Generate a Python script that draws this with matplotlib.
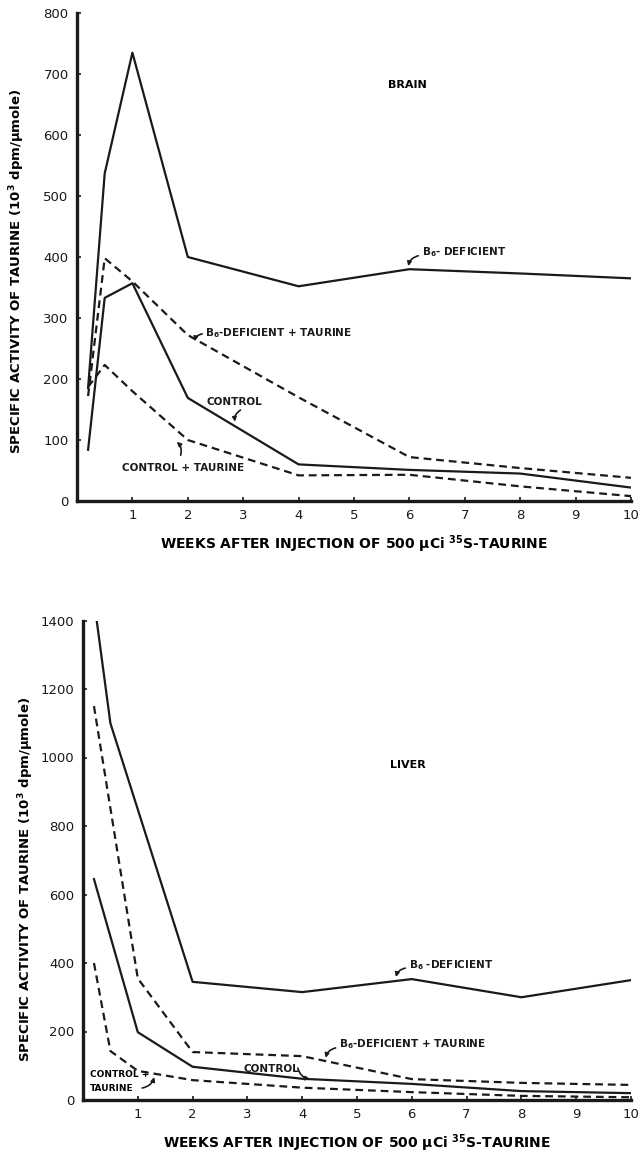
import matplotlib
matplotlib.use("Agg")
import matplotlib.pyplot as plt

plt.rcParams['font.family'] = ['DejaVu Sans']
plt.rcParams['mathtext.default'] = 'regular'

# ---------------- Brain data ----------------
brain_b6_def_x = [0.2, 0.5, 1, 2, 4, 6, 8, 10]
brain_b6_def = [185, 537, 735, 400, 352, 380, 373, 365]
brain_b6_tau_x = [0.2, 0.5, 1, 2, 4, 6, 8, 10]
brain_b6_tau = [172, 398, 360, 272, 170, 72, 54, 38]
brain_ctrl_x = [0.2, 0.5, 1, 2, 4, 6, 8, 10]
brain_ctrl = [84, 333, 357, 169, 60, 51, 45, 22]
brain_ctrl_tau_x = [0.2, 0.5, 1, 2, 4, 6, 8, 10]
brain_ctrl_tau = [187, 223, 180, 100, 42, 43, 24, 8]

# ---------------- Liver data ----------------
liver_b6_def_x = [0.25, 0.5, 2, 4, 6, 8, 10]
liver_b6_def = [1400, 1100, 345, 315, 353, 300, 350]
liver_b6_tau_x = [0.2, 1, 2, 4, 6, 8, 10]
liver_b6_tau = [1150, 355, 140, 128, 61, 50, 44]
liver_ctrl_x = [0.2, 1, 2, 4, 6, 8, 10]
liver_ctrl = [645, 198, 97, 62, 47, 26, 20]
liver_ctrl_tau_x = [0.2, 0.5, 1, 2, 4, 6, 8, 10]
liver_ctrl_tau = [400, 143, 85, 58, 36, 23, 12, 8]

x_ticks = [1, 2, 3, 4, 5, 6, 7, 8, 9, 10]
brain_yticks = [0, 100, 200, 300, 400, 500, 600, 700, 800]
liver_yticks = [0, 200, 400, 600, 800, 1000, 1200, 1400]

ylabel_text = "SPECIFIC ACTIVITY OF TAURINE (10$^3$ dpm/\u03bcmole)"
brain_xlabel = "WEEKS AFTER INJECTION OF 500 \u03bcCi $^{35}$S-TAURINE"
liver_xlabel = "WEEKS AFTER INJECTION OF 500 \u03bcCi $^{35}$S-TAURINE"

W, H = 641, 1156
fig = plt.figure(figsize=(W / 100, H / 100), dpi=100)


def px_axes(x0, x1, ytop, ybot):
    return fig.add_axes([x0 / W, 1 - ybot / H, (x1 - x0) / W, (ybot - ytop) / H])


LW = 1.6
DASH = (3.5, 2.2)


def style(ax, ymax, yticks):
    ax.set_xlim(0, 10)
    ax.set_ylim(0, ymax)
    for s in ['top', 'right']:
        ax.spines[s].set_visible(False)
    for s in ['left', 'bottom']:
        ax.spines[s].set_linewidth(2.4)
        ax.spines[s].set_color('#1a1a1a')
    ax.set_xticks(x_ticks)
    ax.set_xticklabels([str(t) for t in x_ticks])
    ax.set_yticks(yticks)
    ax.set_yticklabels([str(t) for t in yticks])
    ax.tick_params(direction='in', length=3, width=1.2, labelsize=9.5, pad=6,
                   colors='#1a1a1a')


def arrow(ax, tail, head):
    ax.annotate("", xy=head, xytext=tail,
                arrowprops=dict(arrowstyle='-|>', lw=1.2, color='#1a1a1a',
                                mutation_scale=6,
                                connectionstyle='arc3,rad=0.3',
                                shrinkA=0, shrinkB=0))


txt = dict(fontsize=7.5, fontweight='bold', color='#1a1a1a', va='center', ha='left')

# ---------------- Brain ----------------
ax1 = px_axes(77, 631, 13, 501)
ax1.plot(brain_b6_def_x, brain_b6_def, color='#1a1a1a', lw=LW)
ax1.plot(brain_ctrl_x, brain_ctrl, color='#1a1a1a', lw=LW)
ax1.plot(brain_b6_tau_x, brain_b6_tau, color='#1a1a1a', lw=LW, dashes=DASH)
ax1.plot(brain_ctrl_tau_x, brain_ctrl_tau, color='#1a1a1a', lw=LW, dashes=DASH)
style(ax1, 800, brain_yticks)
ax1.set_xlabel(brain_xlabel, fontsize=10, fontweight='bold', labelpad=8)
ax1.set_ylabel(ylabel_text, fontsize=9.5, fontweight='bold')
ax1.yaxis.set_label_coords(-0.09, 0.47)

ax1.text(5.96, 682, "BRAIN", fontsize=8, fontweight='bold', ha='center', va='center')
ax1.text(6.23, 408, "B$_6$- DEFICIENT", **txt)
arrow(ax1, (6.16, 402), (5.98, 385))
ax1.text(2.31, 275, "B$_6$-DEFICIENT + TAURINE", **txt)
arrow(ax1, (2.26, 274), (2.12, 262))
ax1.text(2.33, 162, "CONTROL", **txt)
arrow(ax1, (2.95, 149), (2.85, 130))
ax1.text(0.82, 54, "CONTROL + TAURINE", **txt)
arrow(ax1, (1.87, 75), (1.8, 97))

# ---------------- Liver ----------------
ax2 = px_axes(83, 631, 620.5, 1100)
ax2.plot(liver_b6_def_x, liver_b6_def, color='#1a1a1a', lw=LW)
ax2.plot(liver_ctrl_x, liver_ctrl, color='#1a1a1a', lw=LW)
ax2.plot(liver_b6_tau_x, liver_b6_tau, color='#1a1a1a', lw=LW, dashes=DASH)
ax2.plot(liver_ctrl_tau_x, liver_ctrl_tau, color='#1a1a1a', lw=LW, dashes=DASH)
style(ax2, 1400, liver_yticks)
ax2.set_xlabel(liver_xlabel, fontsize=10, fontweight='bold', labelpad=8)
ax2.set_ylabel(ylabel_text, fontsize=9.5, fontweight='bold')
ax2.yaxis.set_label_coords(-0.086, 0.46)

ax2.text(5.93, 978, "LIVER", fontsize=8, fontweight='bold', ha='center', va='center')
ax2.text(5.95, 394, "B$_6$ -DEFICIENT", **txt)
arrow(ax2, (5.88, 385), (5.71, 359))
ax2.text(4.68, 163, "B$_6$-DEFICIENT + TAURINE", **txt)
arrow(ax2, (4.61, 152), (4.43, 123))
ax2.text(2.93, 91, "CONTROL", **txt)
arrow(ax2, (3.92, 93), (4.14, 61))
ax2.text(0.13, 73, "CONTROL +", fontsize=6.5, fontweight='bold', va='center', ha='left')
ax2.text(0.13, 35, "TAURINE", fontsize=6.5, fontweight='bold', va='center', ha='left')
arrow(ax2, (1.08, 35), (1.30, 67))

fig.savefig("out.png", dpi=100, facecolor='white')
